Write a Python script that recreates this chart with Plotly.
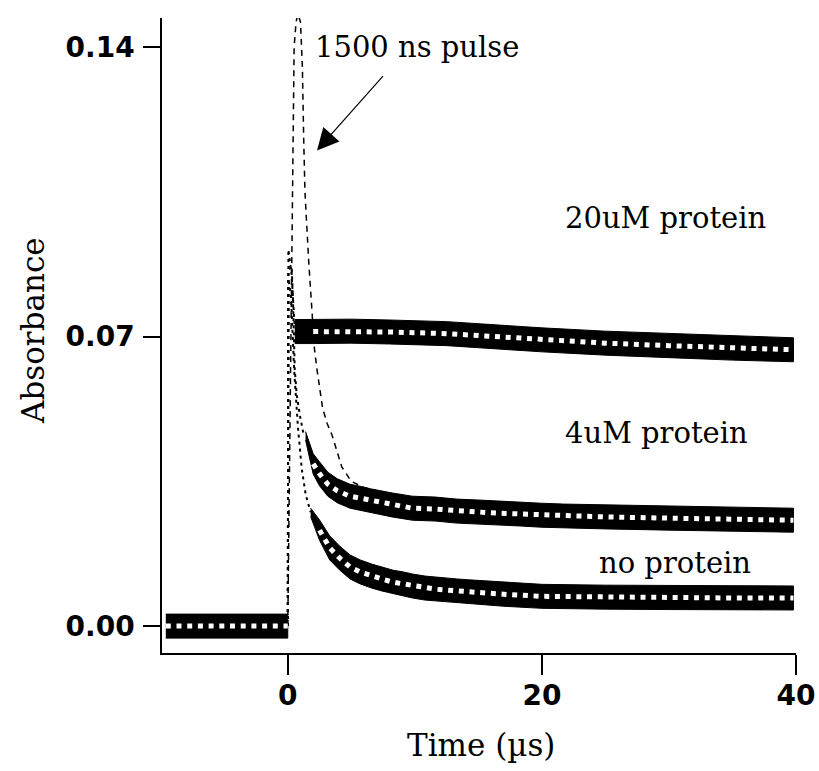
import plotly.graph_objects as go

# ---------------- data ----------------
# shared pre-trigger baseline (all three traces overlap here)
t_base = [-9.6, -5.0, 0.0]
v_base = [0.0, 0.0, 0.0]

# fast (sparse, dotted-looking) parts right after the flash
t_np_fast = [0.0, 0.05, 0.25, 0.5, 0.8, 1.1, 1.4, 1.8]
v_np_fast = [0.0, 0.084, 0.080, 0.062, 0.048, 0.038, 0.032, 0.0275]
t_4_fast = [0.0, 0.05, 0.3, 0.4, 0.55, 0.7, 0.95, 1.2, 1.4]
v_4_fast = [0.0, 0.086, 0.087, 0.080, 0.062, 0.056, 0.051, 0.047, 0.046]
t_20_fast = [0.0, 0.05, 0.3, 0.55]
v_20_fast = [0.0, 0.091, 0.085, 0.072]

# noisy (dense) parts
t_np = [1.8, 2.5, 3.3, 4.1, 4.9, 5.7, 6.6, 7.4, 8.3, 9.1, 9.8, 10.8, 11.7,
        12.5, 13.3, 14.2, 17.0, 20.0, 25.0, 30.0, 35.0, 39.8]
v_np = [0.0275, 0.0232, 0.0189, 0.0164, 0.0143, 0.0131, 0.0121, 0.0114,
        0.0106, 0.0102, 0.0097, 0.0092, 0.0089, 0.0087, 0.0085, 0.0083,
        0.0077, 0.0072, 0.0070, 0.0069, 0.0068, 0.0068]

t_4 = [1.4, 2.0, 2.5, 3.15, 3.9, 4.9, 5.7, 6.5, 8.2, 9.8, 11.6, 13.3, 14.9,
       16.5, 18.3, 20.0, 21.7, 25.0, 30.0, 35.0, 39.8]
v_4 = [0.046, 0.0392, 0.0368, 0.0343, 0.0327, 0.0314, 0.0309, 0.0303,
       0.0293, 0.0285, 0.0283, 0.0278, 0.0276, 0.0273, 0.0271, 0.0268,
       0.0266, 0.0264, 0.0261, 0.0258, 0.0256]

t_20 = [0.55, 2.0, 5.0, 8.0, 12.5, 16.0, 20.0, 25.0, 30.0, 35.0, 39.8]
v_20 = [0.0712, 0.0712, 0.0713, 0.0711, 0.0707, 0.0700, 0.0692, 0.0684,
        0.0678, 0.0672, 0.0668]

# fitted curves (white dotted) start points within the bands
fit_start_np = 1.9
fit_start_4 = 1.5
fit_start_20 = 0.7

# 1500 ns laser pulse profile (dashed)
t_pulse = [0.0, 0.1, 0.3, 0.4, 0.5, 0.65, 0.8, 1.0, 1.15, 1.25, 1.35, 1.65,
           1.8, 2.1, 2.3, 2.5, 2.75, 3.1, 3.5, 3.9, 4.25, 5.0, 6.0, 8.0, 10.0]
v_pulse = [0.0, 0.03, 0.09, 0.125, 0.140, 0.146, 0.148, 0.146, 0.135, 0.118,
           0.105, 0.088, 0.081, 0.067, 0.062, 0.058, 0.0525, 0.049, 0.046,
           0.042, 0.0385, 0.035, 0.0335, 0.032, 0.031]

labels = ["1500 ns pulse", "20uM protein", "4uM protein", "no protein"]
label_t = [10.2, 29.7, 29.0, 30.5]
label_v = [0.1400, 0.0986, 0.0467, 0.0152]

arrow_tail = (7.6, 0.1333)
arrow_head = (2.3, 0.1150)

x_ticks = [0, 20, 40]
y_ticks = [0.0, 0.07, 0.14]
y_tick_text = ["0.00", "0.07", "0.14"]

# ---------------- styles ----------------
BAND_HALF = 0.0029
SERIF = "DejaVu Serif"
SANS = "DejaVu Sans"

fig = go.Figure()


def band(t, v, taper=False):
    n = len(t)
    scale = [1.0] * n
    if taper:
        scale[0] = 0.35
        if n > 1:
            scale[1] = 0.85
    up = [a + BAND_HALF * s for a, s in zip(v, scale)]
    lo = [a - BAND_HALF * s for a, s in zip(v, scale)]
    xs = list(t) + list(t)[::-1]
    ys = up + lo[::-1]
    fig.add_trace(go.Scatter(x=xs, y=ys, mode="lines", fill="toself",
                             fillcolor="black",
                             line=dict(color="black", width=1),
                             hoverinfo="skip", showlegend=False))


def thin(t, v):
    fig.add_trace(go.Scatter(x=t, y=v, mode="lines",
                             line=dict(color="black", width=2, dash="3px,4px"),
                             showlegend=False))


def fit(t, v, start):
    tt = [a for a in t if a >= start]
    vv = [b for a, b in zip(t, v) if a >= start]
    fig.add_trace(go.Scatter(x=tt, y=vv, mode="lines",
                             line=dict(color="white", width=5, dash="5px,5.7px"),
                             showlegend=False))


# fast parts
thin(t_np_fast, v_np_fast)
thin(t_4_fast, v_4_fast)
thin(t_20_fast, v_20_fast)

# pulse
fig.add_trace(go.Scatter(x=t_pulse, y=v_pulse, mode="lines",
                         line=dict(color="black", width=1.5, dash="6px,5px"),
                         showlegend=False))

# bands
band(t_base, v_base)
band(t_np, v_np, taper=True)
band(t_4, v_4, taper=True)
band(t_20, v_20)

# fits
fit(t_base, v_base, -9.6)
fit(t_np, v_np, fit_start_np)
fit(t_4, v_4, fit_start_4)
fit(t_20, v_20, fit_start_20)

annotations = []
for txt, tx, ty in zip(labels, label_t, label_v):
    annotations.append(dict(x=tx, y=ty, xref="x", yref="y", text=txt,
                            showarrow=False, xanchor="center", yanchor="middle",
                            font=dict(family=SERIF, size=29, color="black")))
annotations.append(dict(x=arrow_head[0], y=arrow_head[1], xref="x", yref="y",
                        ax=arrow_tail[0], ay=arrow_tail[1], axref="x", ayref="y",
                        text="", showarrow=True, arrowhead=2, arrowsize=3.6,
                        arrowwidth=1.2, arrowcolor="black"))
annotations.append(dict(x=-0.2035, y=0.5087, xref="paper", yref="paper",
                        text="Absorbance", textangle=-90, showarrow=False,
                        xanchor="center", yanchor="middle",
                        font=dict(family=SERIF, size=31, color="black")))
annotations.append(dict(x=0.503, y=-0.145, xref="paper", yref="paper",
                        text="Time (µs)", showarrow=False,
                        xanchor="center", yanchor="middle",
                        font=dict(family=SERIF, size=31, color="black")))

fig.update_layout(
    width=819, height=771,
    margin=dict(l=162, r=23, t=18, b=118, autoexpand=False),
    paper_bgcolor="white", plot_bgcolor="white",
    showlegend=False,
    annotations=annotations,
    xaxis=dict(range=[-9.9, 40], tickvals=x_ticks, showgrid=False,
               zeroline=False, showline=True, linecolor="black", linewidth=1.5,
               ticks="outside", ticklen=20, tickwidth=1.5, tickcolor="black",
               ticklabelstandoff=-3,
               tickfont=dict(family=SANS, size=28, color="black", weight="bold")),
    yaxis=dict(range=[-0.0065, 0.147], tickvals=y_ticks, ticktext=y_tick_text,
               showgrid=False, zeroline=False, showline=True, linecolor="black",
               linewidth=1.5, ticks="outside", ticklen=17, tickwidth=1.5,
               tickcolor="black", ticklabelstandoff=3,
               tickfont=dict(family=SANS, size=28, color="black", weight="bold")),
)

# remove the default page margin so the 819x771 figure fills the window exactly
fig.write_html("out.html",
               config={"displayModeBar": False},
               post_script="document.body.style.margin='0';"
                           "document.body.style.overflow='hidden';")
